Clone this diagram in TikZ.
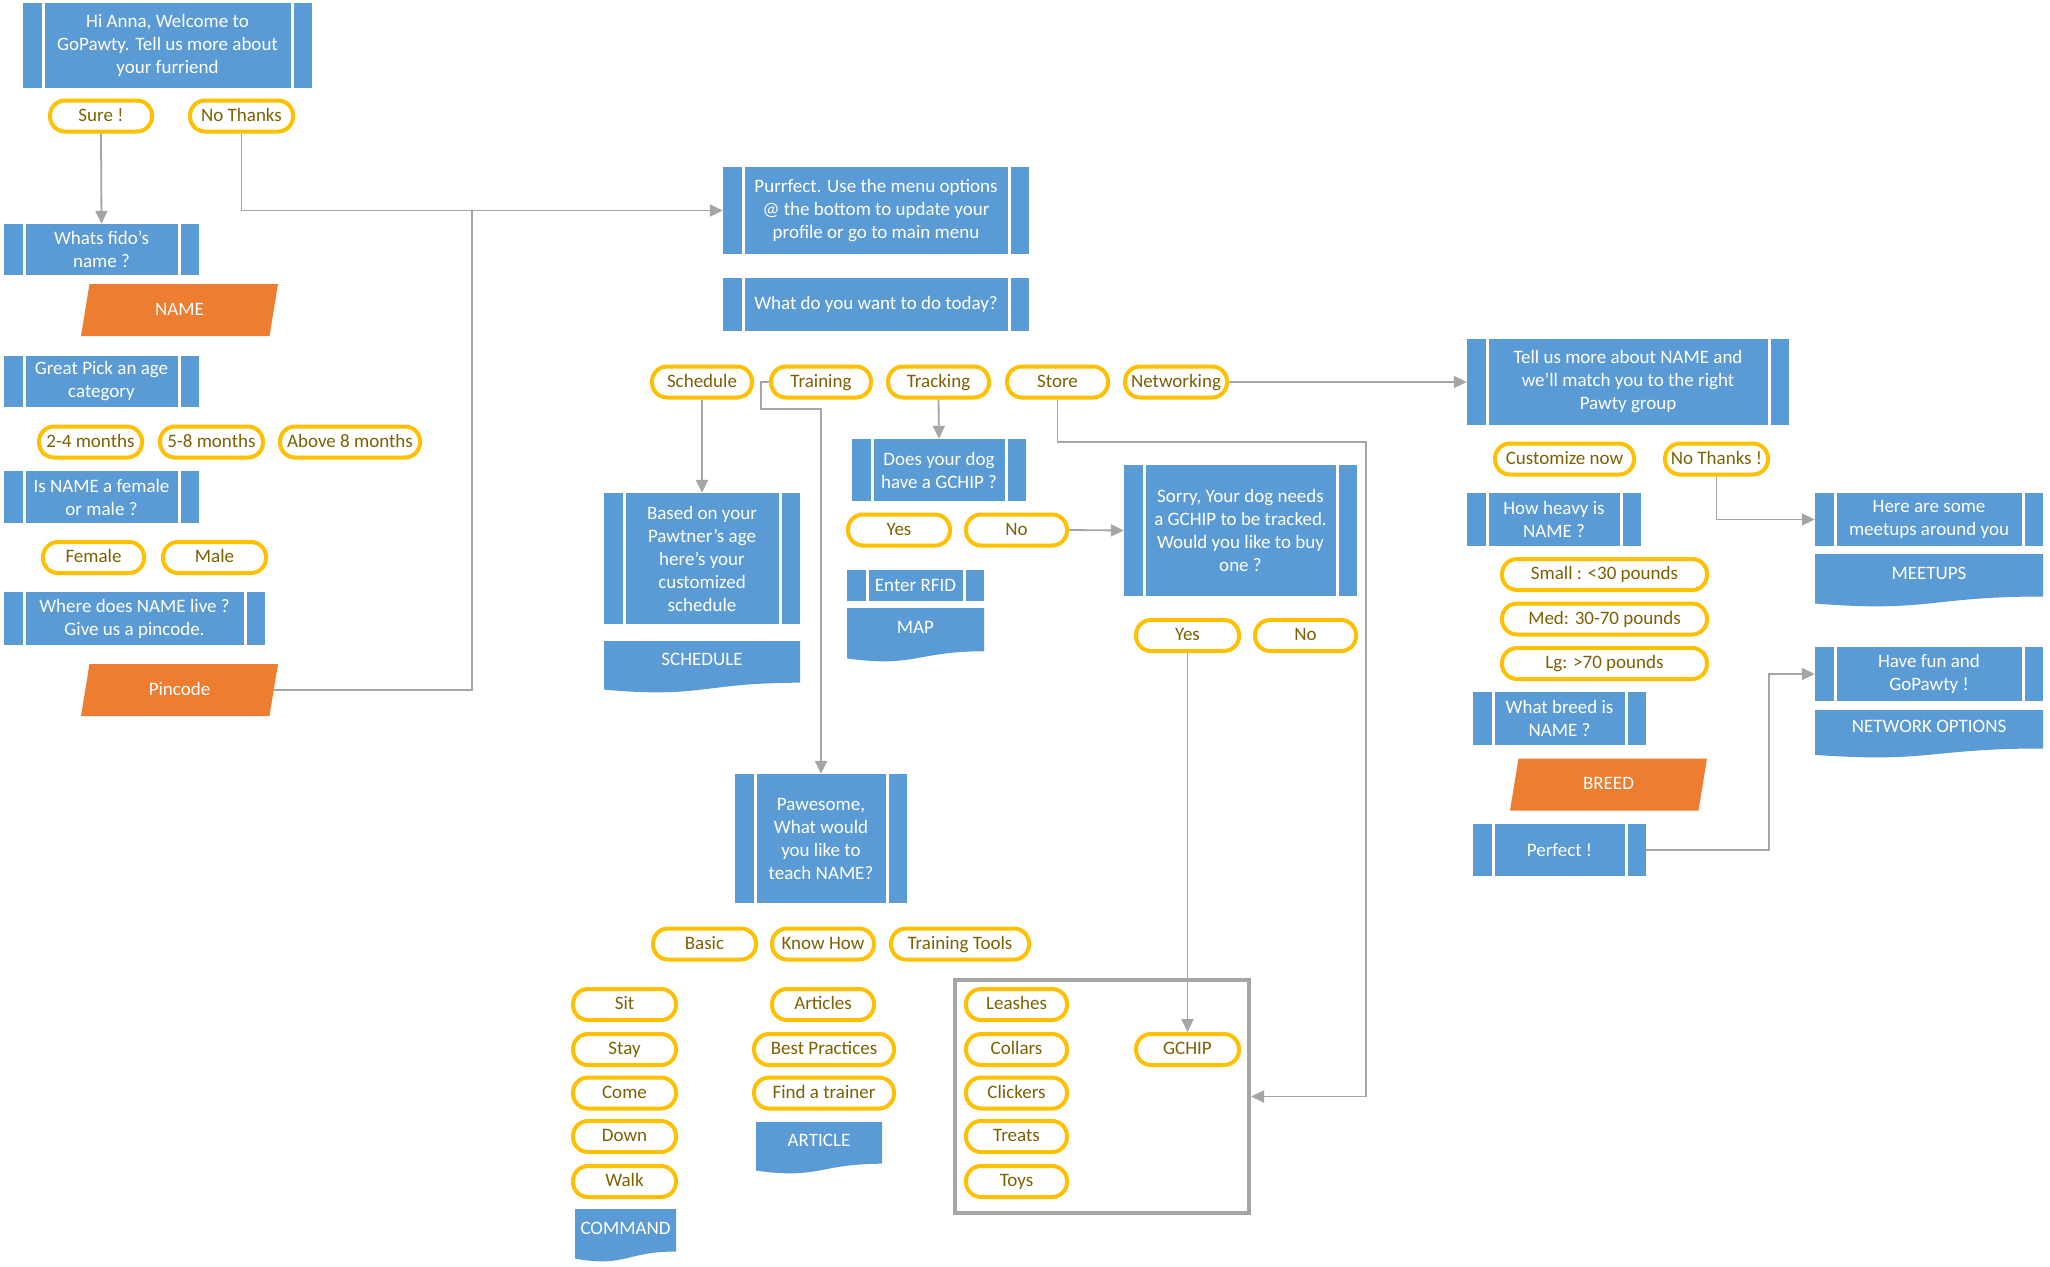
\documentclass[tikz,border=0pt]{standalone}
\usepackage{fontspec}
\setmainfont{Carlito}
\usetikzlibrary{arrows.meta,calc,shapes.geometric}
\definecolor{bblue}{HTML}{5B9BD5}
\definecolor{orng}{HTML}{ED7D31}
\definecolor{gold}{HTML}{FFC000}
\definecolor{olivetext}{HTML}{7F6000}
\definecolor{lgray}{HTML}{A5A5A5}
\newcommand{\dfont}{\fontsize{19}{23}\selectfont}
\tikzset{
  proc/.style 2 args={fill=bblue, text=white, align=center, inner sep=0pt,
    minimum width=#1, minimum height=#2, font=\dfont,
    path picture={
      \draw[white, line width=3pt] ([xshift=20pt]path picture bounding box.north west) -- ([xshift=20pt]path picture bounding box.south west);
      \draw[white, line width=3pt] ([xshift=-20pt]path picture bounding box.north east) -- ([xshift=-20pt]path picture bounding box.south east);}},
  docu/.style 2 args={fill=white, text=white, inner sep=0pt, align=center,
    minimum width=#1, minimum height=#2, font=\dfont, text height=12pt, text depth=15pt,
    path picture={
      \fill[bblue] (path picture bounding box.north west) -- (path picture bounding box.north east)
        -- ($(path picture bounding box.north east)!0.802!(path picture bounding box.south east)$)
        .. controls ($(path picture bounding box.north)!0.802!(path picture bounding box.south)$)
        and ($(path picture bounding box.north)!1.1075!(path picture bounding box.south)$)
        .. ($(path picture bounding box.north west)!0.934!(path picture bounding box.south west)$) -- cycle;}},
  para/.style={trapezium, trapezium left angle=62, trapezium right angle=118,
    trapezium stretches body, fill=orng, text=white, inner sep=0pt,
    minimum width=197pt, minimum height=52pt, font=\dfont, text height=13pt, text depth=3pt},
  pill/.style={draw=gold, line width=4pt, fill=white, text=olivetext, rounded corners=15pt,
    minimum height=31pt, inner sep=0pt, font=\dfont, minimum width=#1,
    text height=13pt, text depth=3pt},
  pill/.default=102pt,
  conn/.style={draw=lgray, line width=1.8pt, -{Triangle[length=13pt,width=12pt]}},
  plain/.style={draw=lgray, line width=1.8pt},
  frame/.style={draw=lgray, line width=4pt, minimum width=294pt, minimum height=233pt, inner sep=0pt}
}
\begin{document}
\begin{tikzpicture}[x=1pt,y=-1pt]
\useasboundingbox[fill=white] (0,0) rectangle (2050,1266);

% left column
\node[proc={289pt}{85pt}] (welcome) at (167.5,45.5) {Hi Anna, Welcome to\\GoPawty. Tell us more about\\your furriend};
\node[pill] (sure) at (101,116) {Sure !};
\node[pill=103pt] (nothx) at (241.5,116) {No Thanks};
\node[proc={195pt}{51pt}] (fido) at (101.5,249.5) {Whats fido’s\\name ?};
\node[para] (name) at (179.5,310) {NAME};
\node[proc={195pt}{51pt}] (great) at (101.5,381.5) {Great Pick an age\\category};
\node[pill=103pt] (m24) at (90.5,442) {2-4 months};
\node[pill=103pt] (m58) at (211.5,442) {5-8 months};
\node[pill=140pt] (m8) at (350,442) {Above 8 months};
\node[proc={195pt}{52pt}] (isname) at (101.5,497) {Is NAME a female\\or male ?};
\node[pill=101pt] (female) at (93.5,557.5) {Female};
\node[pill=103pt] (male) at (214.5,557.5) {Male};
\node[proc={261pt}{53pt}] (where) at (134.5,618.5) {Where does NAME live ?\\Give us a pincode.};
\node[para] (pincode) at (179.5,690) {Pincode};

% middle top
\node[proc={306pt}{87pt}] (purr) at (876,210.5) {Purrfect. Use the menu options\\@ the bottom to update your\\profile or go to  main menu};
\node[proc={306pt}{53pt}] (what) at (876,304.5) {What do you want to do today?};
\node[pill=100pt] (sched) at (702,382) {Schedule};
\node[pill=100pt] (train) at (821,382) {Training};
\node[pill=101pt] (track) at (938.5,382) {Tracking};
\node[pill=101pt] (store) at (1057.5,382) {Store};
\node[pill=102pt] (net) at (1176,382) {Networking};

% schedule branch
\node[proc={196pt}{131pt}] (based) at (702,558.5) {Based on your\\Pawtner’s age\\here’s your\\customized\\schedule};
\node[docu={196pt}{52pt}] (schedoc) at (702,667) {SCHEDULE};

% tracking branch
\node[proc={174pt}{62pt}] (does) at (939,470) {Does your dog\\have a GCHIP ?};
\node[pill=102pt] (yes1) at (899,530) {Yes};
\node[pill=101pt] (no1) at (1016.5,530) {No};
\node[proc={137pt}{31pt}] (rfid) at (915.5,585.5) {Enter RFID};
\node[docu={137pt}{54pt}] (map) at (915.5,635) {MAP};
\node[proc={233pt}{131pt}] (sorry) at (1240.5,530.5) {Sorry, Your dog needs\\a GCHIP to be tracked.\\Would you like to buy\\one ?};
\node[pill=103pt] (yes2) at (1187.5,635.5) {Yes};
\node[pill=101pt] (no2) at (1305.5,635.5) {No};

% training branch
\node[proc={172pt}{129pt}] (paw) at (821,838.5) {Pawesome,\\What would\\you like to\\teach NAME?};
\node[pill=103pt] (basic) at (704.5,944) {Basic};
\node[pill=102pt] (know) at (823,944) {Know How};
\node[pill=138pt] (ttools) at (960,944) {Training Tools};
\node[pill=103pt] (sit) at (624.5,1004.5) {Sit};
\node[pill=103pt] (stay) at (624.5,1049.5) {Stay};
\node[pill=103pt] (come) at (624.5,1093) {Come};
\node[pill=103pt] (down) at (624.5,1136.5) {Down};
\node[pill=103pt] (walk) at (624.5,1181.5) {Walk};
\node[docu={101pt}{53pt}] (command) at (625.5,1235.5) {COMMAND};
\node[pill=102pt] (articles) at (823,1004.5) {Articles};
\node[pill=140pt] (bestp) at (824,1049.5) {Best Practices};
\node[pill=140pt] (findt) at (824,1093) {Find a trainer};
\node[docu={126pt}{52pt}] (article) at (819,1148) {ARTICLE};
\node[frame] (ttbox) at (1102,1096.5) {};
\node[pill=101pt] (leash) at (1016.5,1004.5) {Leashes};
\node[pill=101pt] (collar) at (1016.5,1049.5) {Collars};
\node[pill=101pt] (click) at (1016.5,1093) {Clickers};
\node[pill=101pt] (treat) at (1016.5,1136.5) {Treats};
\node[pill=101pt] (toys) at (1016.5,1181.5) {Toys};
\node[pill=103pt] (gchip) at (1187.5,1049.5) {GCHIP};

% networking branch
\node[proc={322pt}{86pt}] (tell) at (1628,382) {Tell us more about NAME and\\we’ll match you to the right\\Pawty group};
\node[pill=139pt] (custom) at (1564.5,459) {Customize now};
\node[pill=103pt] (nothx2) at (1716.5,459) {No Thanks !};
\node[proc={174pt}{53pt}] (heavy) at (1554,519.5) {How heavy is\\NAME ?};
\node[pill=205pt] (small) at (1604.5,574.5) {Small : <30 pounds};
\node[pill=205pt] (med) at (1604.5,619) {Med: 30-70 pounds};
\node[pill=205pt] (lg) at (1604.5,663.5) {Lg: >70 pounds};
\node[proc={173pt}{53pt}] (breedq) at (1559.5,718.5) {What breed is\\NAME ?};
\node[para] (breed) at (1608.5,784.5) {BREED};
\node[proc={173pt}{52pt}] (perfect) at (1559.5,850) {Perfect !};
\node[proc={228pt}{53pt}] (here) at (1929,519.5) {Here are some\\meetups around you};
\node[docu={228pt}{53pt}] (meetups) at (1929,580.5) {MEETUPS};
\node[proc={228pt}{54pt}] (havefun) at (1929,674) {Have fun and\\GoPawty !};
\node[docu={228pt}{48pt}] (netopt) at (1929,734) {NETWORK OPTIONS};

% connectors
\draw[conn] (sure.south) -- (fido.north);
\draw[conn] (nothx.south) |- (purr.west);
\coordinate (pj) at (472,211);
\draw[plain] (pincode.east) -| (pj);
\draw[conn] (sched.south) -- (based.north);
\coordinate (tj) at (761,409);
\draw[conn] (train.west) -| (tj) -| (paw.north);
\draw[conn] (track.south) -- (does.north);
\draw[conn] (no1.east) -- (sorry.west);
\draw[conn] (yes2.south) -- (gchip.north);
\coordinate (sj) at (1366,442);
\draw[conn] (store.south) |- (sj) |- (ttbox.east);
\draw[conn] (net.east) -- (tell.west);
\draw[conn] (nothx2.south) |- (here.west);
\draw[conn] (perfect.east) -| ($(havefun.west)+(-46,0)$) -- (havefun.west);
\end{tikzpicture}
\end{document}
